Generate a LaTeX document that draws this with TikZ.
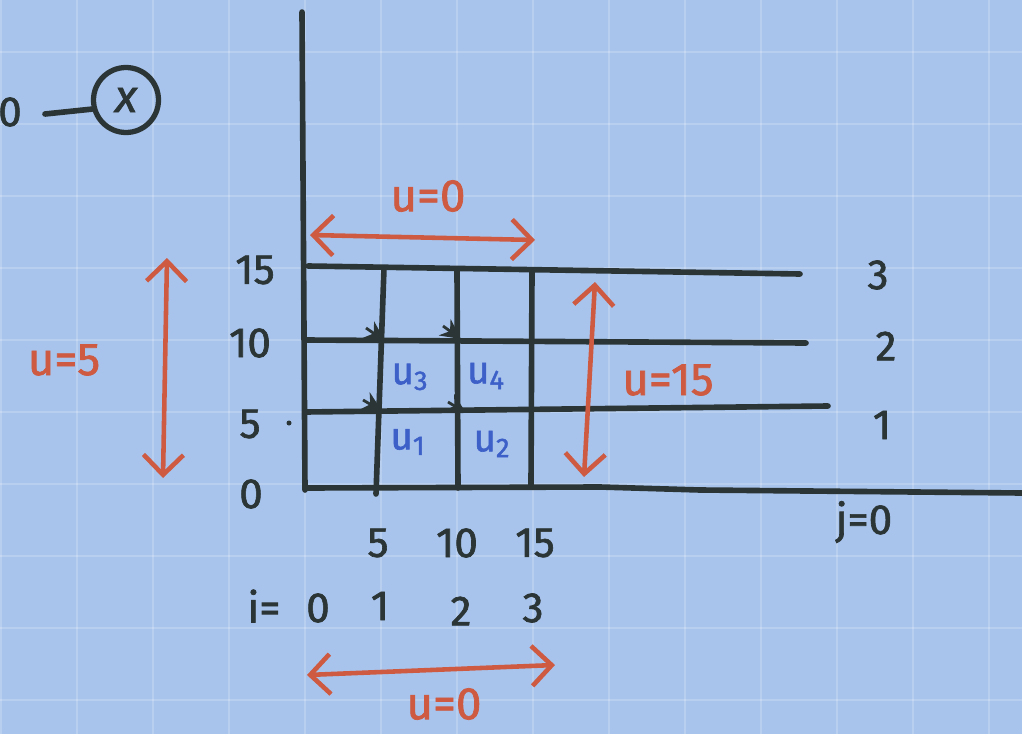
\documentclass[tikz,border=0pt]{standalone}
\usepackage{fontspec}
\setmainfont{Fira Sans}
\newfontfamily\handfont[FakeBold=1.5]{Fira Sans}
\usetikzlibrary{arrows.meta, positioning}
\definecolor{paper}{HTML}{A8C4EC}
\definecolor{ink}{HTML}{2B3535}
\definecolor{redink}{HTML}{CD5A41}
\definecolor{blueink}{HTML}{3C5FC8}

\begin{document}
\begin{tikzpicture}[
                x=0.02cm, y=-0.02cm,
                >={Straight Barb[length=4mm, width=8mm]},
                gridline/.style={
                    white,
                    opacity=0.2,
                    line width=0.8pt
                },
                pen/.style={
                    ink,
                    line width=3.2pt,
                    line cap=round
                },
                redarr/.style={
                    <->,
                    redink,
                    line width=2.6pt
                },
                tickarr/.style={
                    -{Stealth[length=4mm, width=4mm]},
                    ink,
                    line width=1.6pt
                },
                lbl/.style={
                    ink,
                    inner sep=0pt,
                    font=\handfont\fontsize{24}{28}\selectfont
                },
                redlbl/.style={
                    redink,
                    inner sep=0pt,
                    font=\handfont\fontsize{26}{30}\selectfont
                },
                cell/.style={
                    blueink,
                    inner sep=0pt,
                    font=\handfont\fontsize{22}{26}\selectfont
                }
            ]
                \useasboundingbox (0,0) rectangle (1022,734);
                \clip (0,0) rectangle (1022,734);
                \fill[paper] (0,0) rectangle (1022,734);

                % paper grid
                \foreach \gx in {1,77,...,1022}
                    \draw[gridline] (\gx,0) -- (\gx,734);
                \foreach \gy in {52,124,...,734}
                    \draw[gridline] (0,\gy) -- (1022,\gy);

                % top left mark
                \node[lbl] (zero) at (10,112) {0};
                \node[draw=ink, line width=3pt, circle, minimum size=1.3cm,
                      inner sep=0pt, font=\handfont\fontsize{26}{30}\selectfont\itshape, text=ink] (circ) at (126,100) {x};
                \coordinate (stub) at (45,114);
                \draw[pen] (stub) -- (circ.195);

                % axes and grid
                \coordinate (ytop) at (302,12);
                \coordinate (orig) at (305,490);
                \draw[pen] (ytop) -- (orig);

                \coordinate (j0a) at (305,488);  \coordinate (j0b) at (1022,493);
                \coordinate (j1a) at (305,412);  \coordinate (j1b) at (828,406);
                \coordinate (j2a) at (305,340);  \coordinate (j2b) at (806,343);
                \coordinate (j3a) at (308,266);  \coordinate (j3b) at (800,274);
                \draw[pen] (j0a) -- (600,487) -- (700,490) -- (j0b);
                \draw[pen] (j1a) -- (j1b);
                \draw[pen] (j2a) -- (j2b);
                \draw[pen] (j3a) -- (j3b);

                \coordinate (i1a) at (384,268);  \coordinate (i1b) at (376,494);
                \coordinate (i2a) at (457,270);  \coordinate (i2b) at (458,488);
                \coordinate (i3a) at (532,272);  \coordinate (i3b) at (531,485);
                \draw[pen] (i1a) -- (i1b);
                \draw[pen] (i2a) -- (i2b);
                \draw[pen] (i3a) -- (i3b);

                % flow marks
                \draw[tickarr] (366,328) -- (385,341);
                \draw[tickarr] (443,326) -- (461,339);
                \draw[tickarr] (363,400) -- (382,411);
                \draw[tickarr] (448,402) -- (466,413);

                % axis labels
                \node[lbl] (y15) at (255,270) {15};
                \node[lbl] (y10) at (250,343) {10};
                \node[lbl] (y5) at (250,424) {5};
                \node[lbl] (y0) at (251,494) {0};
                \fill[ink] (289,423) circle (2.5);

                \node[lbl] (x5) at (378,543) {5};
                \node[lbl] (x10) at (457,543) {10};
                \node[lbl] (x15) at (535,543) {15};

                \node[lbl] (ieq) at (264,606) {i=};
                \node[lbl] (i0) at (318,608) {0};
                \node[lbl] (i1) at (380,606) {1};
                \node[lbl] (i2) at (461,611) {2};
                \node[lbl] (i3) at (533,608) {3};

                \node[lbl] (j3) at (878,275) {3};
                \node[lbl] (j2) at (886,346) {2};
                \node[lbl] (j1) at (882,425) {1};
                \node[lbl] (j0) at (864,522) {j=0};

                % cells
                \node[cell] (u3) at (410,377) {u\textsubscript{3}};
                \node[cell] (u4) at (486,376) {u\textsubscript{4}};
                \node[cell] (u1) at (408,442) {u\textsubscript{1}};
                \node[cell] (u2) at (492,444) {u\textsubscript{2}};

                % boundary values
                \node[redlbl] (utop) at (428,196) {u=0};
                \node[redlbl] (uleft) at (64,360) {u=5};
                \node[redlbl] (uright) at (668,380) {u=15};
                \node[redlbl] (ubot) at (444,704) {u=0};

                \coordinate (tl) at (310,235);  \coordinate (tr) at (535,240);
                \coordinate (lt) at (167,258);  \coordinate (lb) at (163,478);
                \coordinate (rt) at (595,282);  \coordinate (rb) at (584,477);
                \coordinate (bl) at (307,675);  \coordinate (br) at (555,665);
                \draw[redarr] (tl) -- (tr);
                \draw[redarr] (lt) -- (lb);
                \draw[redarr] (rt) -- (rb);
                \draw[redarr] (bl) -- (br);
            \end{tikzpicture}
\end{document}
